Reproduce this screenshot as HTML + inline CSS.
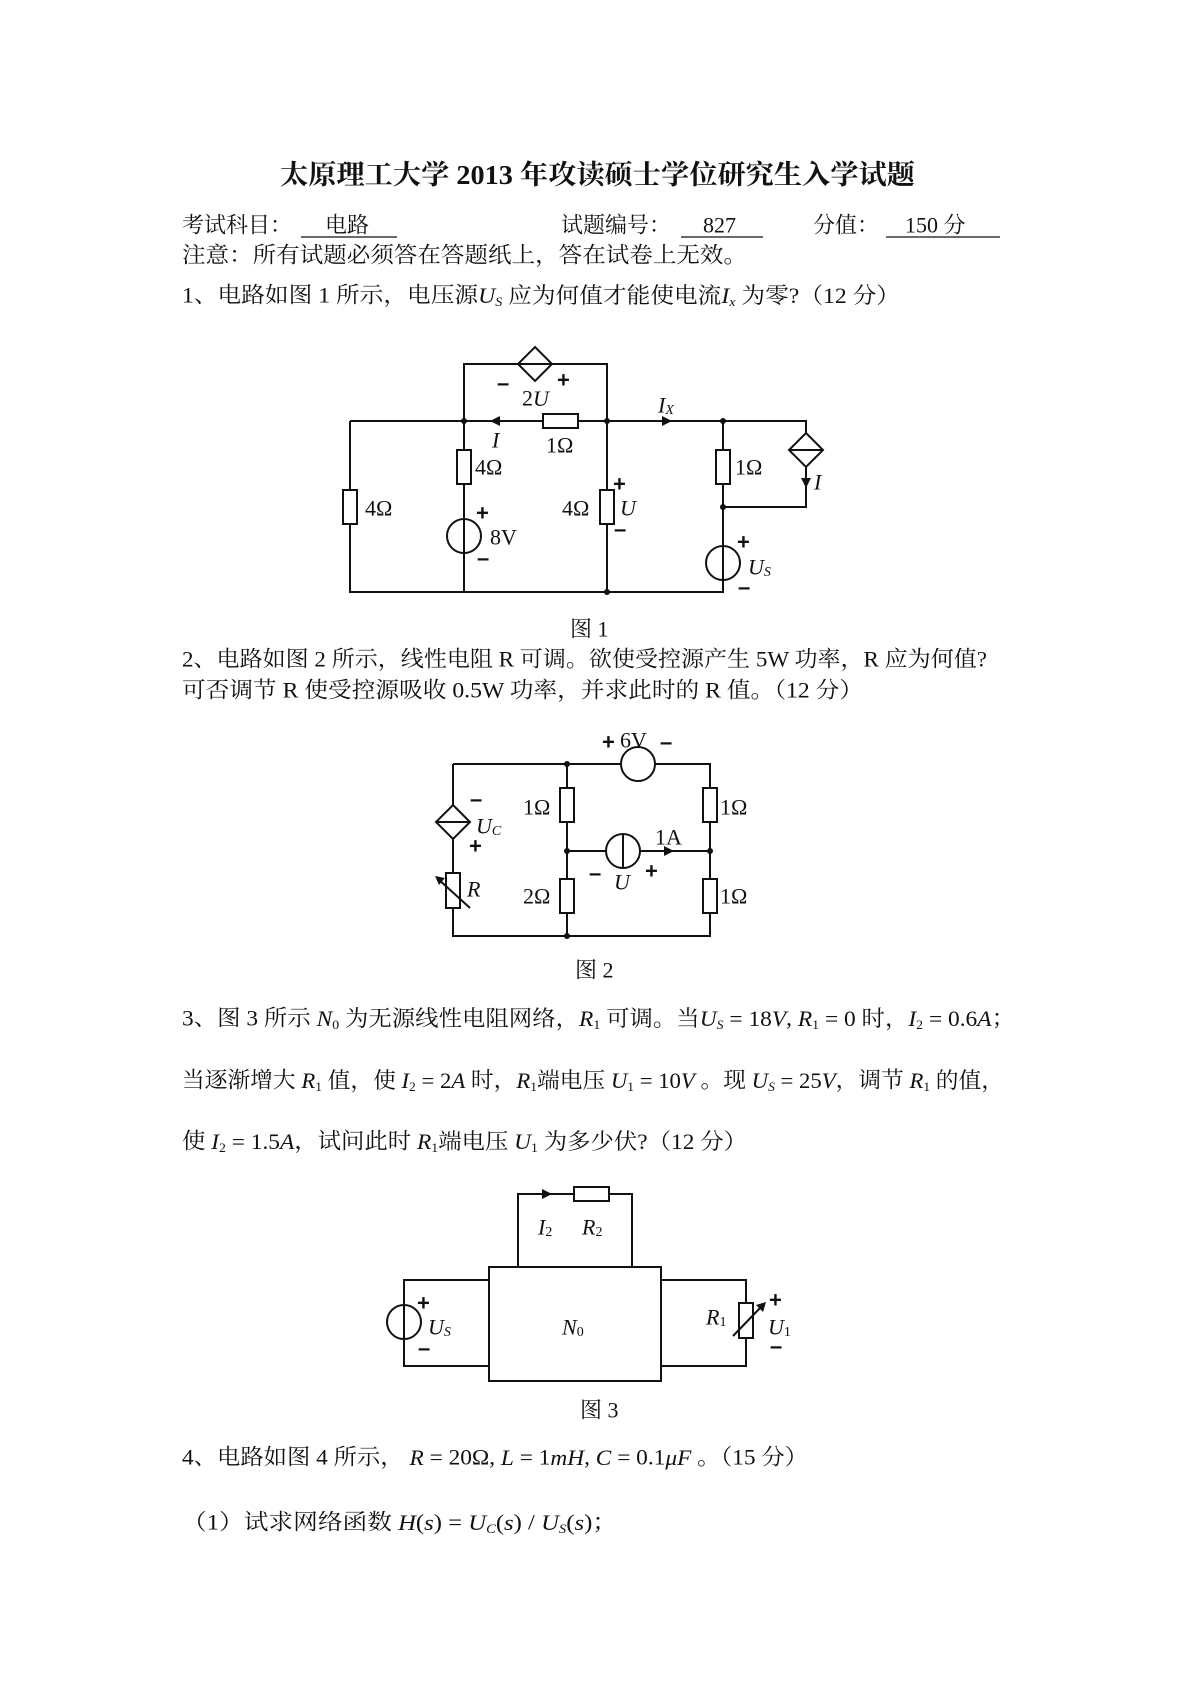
<!DOCTYPE html>
<html><head><meta charset="utf-8">
<style>
html,body{margin:0;padding:0;background:#fff;}
svg{display:block;}
text{font-family:"Liberation Serif","Noto Serif CJK SC",serif;fill:#111;}
.t{font-size:22px;}
.l{font-size:22px;}
.i{font-style:italic;}
.pm{font-weight:bold;font-size:22px;font-family:"Liberation Sans",sans-serif;}
</style></head>
<body>
<svg width="1190" height="1683" viewBox="0 0 1190 1683" xmlns="http://www.w3.org/2000/svg">
<g dominant-baseline="central">
<text x="280" y="175" font-size="27" font-weight="bold" textLength="635" lengthAdjust="spacingAndGlyphs">太原理工大学 2013 年攻读硕士学位研究生入学试题</text>
<text class="t" x="182" y="225">考试科目：</text>
<text class="t" x="325" y="225">电路</text>
<text class="t" x="561" y="225">试题编号：</text>
<text class="t" x="703" y="225">827</text>
<text class="t" x="813" y="225">分值：</text>
<text class="t" x="905" y="225">150 分</text>
<text class="t" x="182" y="255" textLength="565" lengthAdjust="spacingAndGlyphs">注意：所有试题必须答在答题纸上，答在试卷上无效。</text>
<text class="t" x="182" y="295" textLength="718" lengthAdjust="spacingAndGlyphs">1、电路如图 1 所示，电压源<tspan class="i">U</tspan><tspan font-size="13" class="i" dy="6">S</tspan><tspan dy="-6"> 应为何值才能使电流</tspan><tspan class="i">I</tspan><tspan font-size="13" class="i" dy="6">x</tspan><tspan dy="-6"> 为零?（12 分）</tspan></text>
<text class="t" x="570" y="629">图 1</text>
<text class="t" x="182" y="659" textLength="805" lengthAdjust="spacingAndGlyphs">2、电路如图 2 所示，线性电阻 R 可调。欲使受控源产生 5W 功率，R 应为何值?</text>
<text class="t" x="182" y="690" textLength="681" lengthAdjust="spacingAndGlyphs">可否调节 R 使受控源吸收 0.5W 功率，并求此时的 R 值。（12 分）</text>
<text class="t" x="575" y="970">图 2</text>
<text class="t" x="182" y="1018" textLength="833" lengthAdjust="spacingAndGlyphs">3、图 3 所示 <tspan class="i">N</tspan><tspan font-size="13" dy="6">0</tspan><tspan dy="-6"> 为无源线性电阻网络，</tspan><tspan class="i">R</tspan><tspan font-size="13" dy="6">1</tspan><tspan dy="-6"> 可调。当</tspan><tspan class="i">U</tspan><tspan font-size="13" class="i" dy="6">S</tspan><tspan dy="-6"> = 18</tspan><tspan class="i">V</tspan>, <tspan class="i">R</tspan><tspan font-size="13" dy="6">1</tspan><tspan dy="-6"> = 0 时，</tspan><tspan class="i">I</tspan><tspan font-size="13" dy="6">2</tspan><tspan dy="-6"> = 0.6</tspan><tspan class="i">A</tspan>；</text>
<text class="t" x="182" y="1080" textLength="822" lengthAdjust="spacingAndGlyphs">当逐渐增大 <tspan class="i">R</tspan><tspan font-size="13" dy="6">1</tspan><tspan dy="-6"> 值，使 </tspan><tspan class="i">I</tspan><tspan font-size="13" dy="6">2</tspan><tspan dy="-6"> = 2</tspan><tspan class="i">A</tspan> 时，<tspan class="i">R</tspan><tspan font-size="13" dy="6">1</tspan><tspan dy="-6">端电压 </tspan><tspan class="i">U</tspan><tspan font-size="13" dy="6">1</tspan><tspan dy="-6"> = 10</tspan><tspan class="i">V</tspan> 。现 <tspan class="i">U</tspan><tspan font-size="13" class="i" dy="6">S</tspan><tspan dy="-6"> = 25</tspan><tspan class="i">V</tspan>，调节 <tspan class="i">R</tspan><tspan font-size="13" dy="6">1</tspan><tspan dy="-6"> 的值，</tspan></text>
<text class="t" x="182" y="1141" textLength="565" lengthAdjust="spacingAndGlyphs">使 <tspan class="i">I</tspan><tspan font-size="13" dy="6">2</tspan><tspan dy="-6"> = 1.5</tspan><tspan class="i">A</tspan>，试问此时 <tspan class="i">R</tspan><tspan font-size="13" dy="6">1</tspan><tspan dy="-6">端电压 </tspan><tspan class="i">U</tspan><tspan font-size="13" dy="6">1</tspan><tspan dy="-6"> 为多少伏?（12 分）</tspan></text>
<text class="t" x="580" y="1410">图 3</text>
<text class="t" x="182" y="1457" textLength="626" lengthAdjust="spacingAndGlyphs">4、电路如图 4 所示， <tspan class="i">R</tspan> = 20Ω, <tspan class="i">L</tspan> = 1<tspan class="i">mH</tspan>, <tspan class="i">C</tspan> = 0.1<tspan class="i">μF</tspan> 。（15 分）</text>
<text class="t" x="182" y="1522" textLength="435" lengthAdjust="spacingAndGlyphs">（1）试求网络函数 <tspan class="i">H</tspan>(<tspan class="i">s</tspan>) = <tspan class="i">U</tspan><tspan font-size="13" class="i" dy="6">C</tspan><tspan dy="-6">(</tspan><tspan class="i">s</tspan>) / <tspan class="i">U</tspan><tspan font-size="13" class="i" dy="6">S</tspan><tspan dy="-6">(</tspan><tspan class="i">s</tspan>)；</text>
</g>
<g stroke="#111" stroke-width="1.3">
<line x1="301" y1="237" x2="397" y2="237"/>
<line x1="681" y1="237" x2="763" y2="237"/>
<line x1="886" y1="237" x2="1000" y2="237"/>
</g>

<!-- Figure 1 -->
<g stroke="#111" stroke-width="2" fill="none">
<polyline points="350,421 350,592 723,592 723,421 350,421"/>
<line x1="464" y1="421" x2="464" y2="592"/>
<line x1="607" y1="421" x2="607" y2="592"/>
<polyline points="464,421 464,364 607,364 607,421"/>
<polyline points="723,421 806,421 806,507 723,507"/>
<rect x="543" y="414" width="35" height="14" fill="#fff"/>
<rect x="343" y="490" width="14" height="34" fill="#fff"/>
<rect x="457" y="450" width="14" height="34" fill="#fff"/>
<rect x="600" y="490" width="14" height="34" fill="#fff"/>
<rect x="716" y="450" width="14" height="34" fill="#fff"/>
<circle cx="464" cy="536" r="17" fill="#fff"/>
<line x1="464" y1="519" x2="464" y2="553"/>
<circle cx="723" cy="563" r="17" fill="#fff"/>
<line x1="723" y1="546" x2="723" y2="580"/>
<polygon points="535,347 552,364 535,381 518,364" fill="#fff"/>
<line x1="518" y1="364" x2="552" y2="364"/>
<polygon points="806,433 823,450 806,467 789,450" fill="#fff"/>
<line x1="789" y1="450" x2="823" y2="450"/>
</g>
<g fill="#111">
<polygon points="490,421 500,416 500,426"/>
<polygon points="672,421 662,416 662,426"/>
<polygon points="806,488 801,478 811,478"/>
<circle cx="464" cy="421" r="3"/><circle cx="607" cy="421" r="3"/>
<circle cx="723" cy="421" r="3"/><circle cx="723" cy="507" r="3"/>
<circle cx="607" cy="592" r="3"/>
</g>
<g dominant-baseline="central" class="l">
<text x="497" y="383" class="pm">–</text><text x="557" y="380" class="pm">+</text>
<text x="522" y="398">2<tspan class="i">U</tspan></text>
<text x="492" y="440" class="i">I</text>
<text x="546" y="445">1Ω</text>
<text x="658" y="405" class="i">I<tspan font-size="14" dy="5">X</tspan></text>
<text x="365" y="508">4Ω</text>
<text x="475" y="467">4Ω</text>
<text x="476" y="513" class="pm">+</text><text x="490" y="537">8V</text><text x="477" y="558" class="pm">–</text>
<text x="562" y="508">4Ω</text>
<text x="613" y="484" class="pm">+</text><text x="620" y="508" class="i">U</text><text x="614" y="529" class="pm">–</text>
<text x="735" y="467">1Ω</text>
<text x="814" y="482" class="i">I</text>
<text x="737" y="542" class="pm">+</text><text x="748" y="567" class="i">U<tspan font-size="14" dy="5">S</tspan></text><text x="738" y="587" class="pm">–</text>
</g>

<!-- Figure 2 -->
<g stroke="#111" stroke-width="2" fill="none">
<polyline points="453,764 710,764 710,936 453,936 453,764"/>
<line x1="567" y1="764" x2="567" y2="936"/>
<line x1="567" y1="851" x2="710" y2="851"/>
<circle cx="638" cy="764" r="17" fill="#fff"/>
<polygon points="453,805 470,822 453,839 436,822" fill="#fff"/>
<line x1="436" y1="822" x2="470" y2="822"/>
<rect x="446" y="873" width="14" height="35" fill="#fff"/>
<line x1="470" y1="908" x2="437" y2="878"/>
<rect x="560" y="788" width="14" height="34" fill="#fff"/>
<rect x="560" y="879" width="14" height="34" fill="#fff"/>
<rect x="703" y="788" width="14" height="34" fill="#fff"/>
<rect x="703" y="879" width="14" height="34" fill="#fff"/>
<circle cx="623" cy="851" r="17" fill="#fff"/>
<line x1="623" y1="834" x2="623" y2="868"/>
</g>
<g fill="#111">
<polygon points="435,876 445,878 439,885"/>
<polygon points="674,851 664,846 664,856"/>
<circle cx="567" cy="764" r="3"/><circle cx="567" cy="851" r="3"/>
<circle cx="710" cy="851" r="3"/><circle cx="567" cy="936" r="3"/>
</g>
<g dominant-baseline="central" class="l">
<text x="602" y="742" class="pm">+</text><text x="620" y="740">6V</text><text x="660" y="742" class="pm">–</text>
<text x="470" y="799" class="pm">–</text>
<text x="476" y="826" class="i">U<tspan font-size="14" dy="5">C</tspan></text>
<text x="469" y="846" class="pm">+</text>
<text x="467" y="889" class="i">R</text>
<text x="523" y="807">1Ω</text>
<text x="720" y="807">1Ω</text>
<text x="523" y="896">2Ω</text>
<text x="720" y="896">1Ω</text>
<text x="655" y="837">1A</text>
<text x="589" y="873" class="pm">–</text><text x="614" y="882" class="i">U</text><text x="645" y="871" class="pm">+</text>
</g>

<!-- Figure 3 -->
<g stroke="#111" stroke-width="2" fill="none">
<rect x="489" y="1267" width="172" height="114"/>
<polyline points="518,1267 518,1194 632,1194 632,1267"/>
<rect x="574" y="1187" width="35" height="14" fill="#fff"/>
<polyline points="489,1280 404,1280 404,1366 489,1366"/>
<polyline points="661,1280 746,1280 746,1366 661,1366"/>
<circle cx="404" cy="1322" r="17" fill="#fff"/>
<line x1="404" y1="1305" x2="404" y2="1339"/>
<rect x="739" y="1303" width="14" height="35" fill="#fff"/>
<line x1="733" y1="1336" x2="762" y2="1306"/>
</g>
<g fill="#111">
<polygon points="552,1194 542,1189 542,1199"/>
<polygon points="766,1302 756,1305 763,1312"/>
</g>
<g dominant-baseline="central" class="l">
<text x="538" y="1227" class="i">I<tspan font-size="14" dy="5" font-style="normal">2</tspan></text>
<text x="582" y="1227" class="i">R<tspan font-size="14" dy="5" font-style="normal">2</tspan></text>
<text x="562" y="1327" class="i">N<tspan font-size="14" dy="5" font-style="normal">0</tspan></text>
<text x="706" y="1317" class="i">R<tspan font-size="14" dy="5" font-style="normal">1</tspan></text>
<text x="769" y="1300" class="pm">+</text>
<text x="768" y="1327" class="i">U<tspan font-size="14" dy="5" font-style="normal">1</tspan></text>
<text x="770" y="1346" class="pm">–</text>
<text x="417" y="1303" class="pm">+</text>
<text x="428" y="1327" class="i">U<tspan font-size="14" dy="5">S</tspan></text>
<text x="418" y="1348" class="pm">–</text>
</g>
</svg>
</body></html>
